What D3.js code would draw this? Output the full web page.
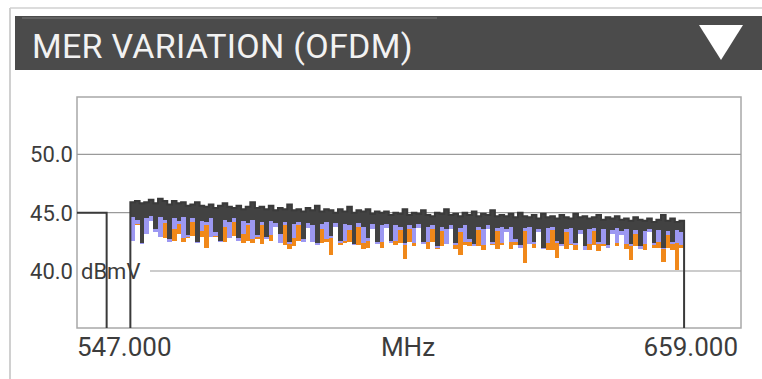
<!DOCTYPE html>
<html>
<head>
<meta charset="utf-8">
<script src="https://cdn.jsdelivr.net/npm/d3@7/dist/d3.min.js"></script>
<style>
  body { margin: 0; background: #fff; }
  svg { display: block; font-family: Roboto, "Noto Sans", sans-serif; }
</style>
</head>
<body>
<svg id="chart" width="762" height="379"></svg>
<script>
// ---- data ----
var titleText = "MER VARIATION (OFDM)";
var yTickValues = [40, 45, 50];
var yUnit = "dBmV";
var xEndLabels = ["547.000", "659.000"];
var xUnit = "MHz";
var spanMHz = [547, 659];
var levelMHz = [547, 552];      // flat part at the left before the gap
var levelValue = 45.0;
var channelMHz = [556, 649.4];  // where the OFDM bins sit

// gray trace, top of each bin
var grayHi = [45.9,46.0,45.8,45.9,46.1,45.8,46.2,46.0,45.7,46.0,45.8,45.9,45.6,45.7,45.9,45.6,
  45.5,45.7,45.4,45.6,45.8,45.5,45.4,45.6,45.3,45.5,45.9,45.4,45.5,45.3,45.6,
  45.2,45.4,45.3,45.7,45.2,45.3,45.1,45.4,45.2,45.6,45.1,45.3,45.2,45.0,45.3,45.1,45.5,45.0,45.2,45.1,45.3,44.9,45.1,45.0,
  45.1,44.8,45.0,44.9,45.3,44.8,45.0,44.9,45.2,44.8,44.7,45.0,44.9,45.3,44.8,44.9,44.7,45.0,44.8,45.1,44.7,44.9,44.8,45.2,44.7,44.8,
  44.7,44.9,44.6,45.0,44.7,44.6,44.8,44.5,44.9,44.6,44.7,44.5,44.8,44.6,44.5,44.9,44.6,44.7,44.5,44.6,44.8,44.4,44.6,44.5,44.7,
  44.4,44.5,44.3,44.6,44.4,44.3,44.5,44.2,44.4,44.8,44.3,44.5,44.2,44.3];
// gray trace, bottom of each bin
var grayLo = [44.6,44.4,42.4,44.5,44.7,43.6,44.6,44.4,42.7,44.5,44.3,44.6,43.1,44.5,42.5,44.3,
  44.2,44.5,43.3,42.6,44.4,44.2,44.5,42.8,44.3,44.1,44.4,43.1,44.2,42.9,44.3,
  44.1,43.2,44.2,42.5,44.0,44.2,42.7,44.1,43.9,42.4,44.0,44.2,43.0,44.1,42.6,44.0,43.9,42.3,44.1,43.8,42.8,44.0,42.5,43.9,
  44.0,42.6,43.9,43.8,42.4,43.9,43.7,44.0,42.5,43.8,43.9,42.1,43.8,43.6,43.9,42.4,43.7,43.9,42.7,42.3,43.8,43.6,43.9,42.5,43.7,43.8,
  43.6,43.8,42.7,42.2,43.7,43.8,42.5,43.6,42.0,43.7,43.8,42.6,42.3,43.6,43.7,42.4,43.5,42.1,43.6,43.7,42.5,43.6,42.2,43.5,43.7,
  43.4,43.6,42.3,43.5,42.1,43.4,43.6,42.4,43.5,42.0,43.4,42.5,43.5,43.3];
// blue trace, bottom of each bin
var blueLo = [42.6,44.0,42.3,43.2,44.3,43.3,42.9,44.1,42.5,43.6,44.0,42.8,42.9,44.2,42.4,43.4,
  43.9,42.9,43.0,42.5,43.8,42.8,44.2,42.6,43.2,43.9,42.7,42.9,43.9,42.7,43.1,
  43.8,42.4,43.9,42.3,42.8,43.9,42.5,43.7,42.5,42.2,43.6,42.7,42.8,43.8,42.4,42.6,43.5,42.2,43.8,42.4,42.6,43.6,42.3,42.5,
  43.7,42.4,42.6,43.5,42.2,43.6,42.4,43.7,42.3,42.5,43.6,42.0,43.4,42.3,43.6,42.2,43.3,42.5,42.5,42.1,43.5,42.2,43.6,42.3,43.4,42.4,
  43.3,42.5,42.5,42.0,43.4,42.3,42.3,43.3,41.9,42.4,43.5,42.4,42.1,43.3,42.3,42.2,43.2,41.8,42.3,43.4,42.3,42.3,42.0,43.2,42.4,
  43.1,42.3,42.1,43.2,41.9,42.3,43.3,42.2,42.5,41.9,43.1,42.3,42.4,42.2];
// orange trace, bottom of each bin
var orangeLo = [43.8,43.9,42.6,43.3,44.4,43.4,43.0,42.8,42.9,42.6,43.2,42.5,42.8,43.0,42.7,42.9,
  42.0,43.2,42.9,42.6,42.5,42.9,43.0,42.7,42.4,42.6,42.4,42.7,42.3,42.9,42.6,
  43.9,42.6,42.2,41.9,42.1,42.6,42.6,43.8,42.5,42.3,42.4,42.5,41.4,43.9,42.2,42.4,42.5,42.3,42.2,41.9,42.0,43.7,42.4,42.0,
  43.8,42.5,42.2,42.4,41.0,42.5,42.1,43.8,42.4,41.9,42.5,41.9,42.1,42.3,43.7,41.9,41.4,42.2,42.1,42.2,42.1,41.8,43.7,42.2,41.9,42.2,
  43.4,41.9,42.2,42.1,40.7,42.3,42.0,43.4,42.0,41.8,41.8,41.1,42.1,41.9,42.2,41.8,43.3,41.9,41.8,42.2,41.7,42.1,42.0,43.3,42.1,
  43.2,41.9,40.9,42.1,42.0,41.8,43.4,42.0,42.0,40.8,42.0,41.8,40.1,42.0];

var svg = d3.select("#chart");
var W = 762, H = 379;
var box = {left: 77, right: 741, top: 97, bottom: 328};

// ---- frame and header ----
svg.append("line").attr("x1", 10).attr("x2", W).attr("y1", 8).attr("y2", 8)
  .attr("stroke", "#dcdcdc").attr("stroke-width", 2);
svg.append("line").attr("x1", 10).attr("x2", 10).attr("y1", 8).attr("y2", H)
  .attr("stroke", "#d0d0d0").attr("stroke-width", 2);
svg.append("rect").attr("x", 15).attr("y", 16).attr("width", W - 15).attr("height", 54)
  .attr("fill", "#4b4b4b");
svg.append("line").attr("x1", 22).attr("x2", 437).attr("y1", 18).attr("y2", 18)
  .attr("stroke", "#6a6a6a").attr("stroke-width", 1.5);
svg.append("text").attr("x", 32).attr("y", 58)
  .attr("font-size", 34).attr("letter-spacing", 0.3).attr("fill", "#f2f2f2").text(titleText);
svg.append("path").attr("d", "M699,25 L743,25 L721,60 Z").attr("fill", "#fff");

// ---- scales ----
var x = d3.scaleLinear().domain(spanMHz).range([box.left, box.right]);
var y = d3.scaleLinear().domain([35, 55]).range([329.3, 96]);

var nBins = grayHi.length;
var binW = (channelMHz[1] - channelMHz[0]) / nBins;
// each bin becomes two points so the areas come out as steps
var steps = [];
d3.range(nBins).forEach(function(i) {
  var d = {hi: grayHi[i], lo: grayLo[i], blue: blueLo[i], orange: orangeLo[i]};
  steps.push(Object.assign({f: channelMHz[0] + i * binW}, d));
  steps.push(Object.assign({f: channelMHz[0] + (i + 1) * binW}, d));
});

// ---- plot box and grid ----
svg.append("rect").attr("x", box.left).attr("y", box.top)
  .attr("width", box.right - box.left).attr("height", box.bottom - box.top)
  .attr("fill", "#fff").attr("stroke", "#a8a8a8").attr("stroke-width", 1.5);

svg.append("g").selectAll("line").data(yTickValues).enter().append("line")
  .attr("x1", function(d) { return d === 40 ? 150 : box.left; })
  .attr("x2", box.right)
  .attr("y1", function(d) { return y(d); }).attr("y2", function(d) { return y(d); })
  .attr("stroke", "#9a9a9a").attr("stroke-width", 1.2);

svg.append("defs").append("clipPath").attr("id", "plotclip").append("rect")
  .attr("x", box.left).attr("y", box.top)
  .attr("width", box.right - box.left).attr("height", box.bottom - box.top);
var plot = svg.append("g").attr("clip-path", "url(#plotclip)");

function band(lowKey) {
  return d3.area()
    .x(function(d) { return x(d.f); })
    .y0(function(d) { return y(d[lowKey]); })
    .y1(function(d) { return y(d.hi); });
}

// orange underneath, then blue, then gray on top
plot.append("path").attr("d", band("orange")(steps)).attr("fill", "#f0881a")
  .attr("shape-rendering", "crispEdges");
plot.append("path").attr("d", band("blue")(steps)).attr("fill", "#9c98f2")
  .attr("shape-rendering", "crispEdges");
plot.append("path").attr("d", band("lo")(steps)).attr("fill", "#424242")
  .attr("shape-rendering", "crispEdges");

// gray step outline, including the flat level and drops to the floor
var floorV = y.domain()[0];
var pts = [[levelMHz[0], levelValue], [levelMHz[1], levelValue], [levelMHz[1], floorV],
           [channelMHz[0], floorV]];
steps.forEach(function(d) { pts.push([d.f, d.hi]); });
pts.push([channelMHz[1], floorV]);
plot.append("path")
  .attr("d", d3.line().x(function(d) { return x(d[0]); }).y(function(d) { return y(d[1]); })(pts))
  .attr("fill", "none").attr("stroke", "#3a3a3a").attr("stroke-width", 2);

// ---- labels ----
svg.append("g").selectAll("text").data(yTickValues).enter().append("text")
  .attr("x", 73).attr("y", function(d) { return y(d) + 8; })
  .attr("text-anchor", "end").attr("font-size", 22).attr("fill", "#3c3c3c")
  .text(function(d) { return d.toFixed(1); });

svg.append("text").attr("x", 81).attr("y", y(40) + 8)
  .attr("font-size", 22).attr("fill", "#3c3c3c").text(yUnit);

svg.append("text").attr("x", box.left).attr("y", 356)
  .attr("font-size", 26).attr("fill", "#3c3c3c").text(xEndLabels[0]);
svg.append("text").attr("x", 738).attr("y", 356).attr("text-anchor", "end")
  .attr("font-size", 26).attr("fill", "#3c3c3c").text(xEndLabels[1]);
svg.append("text").attr("x", 408).attr("y", 356).attr("text-anchor", "middle")
  .attr("font-size", 26).attr("fill", "#3c3c3c").text(xUnit);
</script>
</body>
</html>
